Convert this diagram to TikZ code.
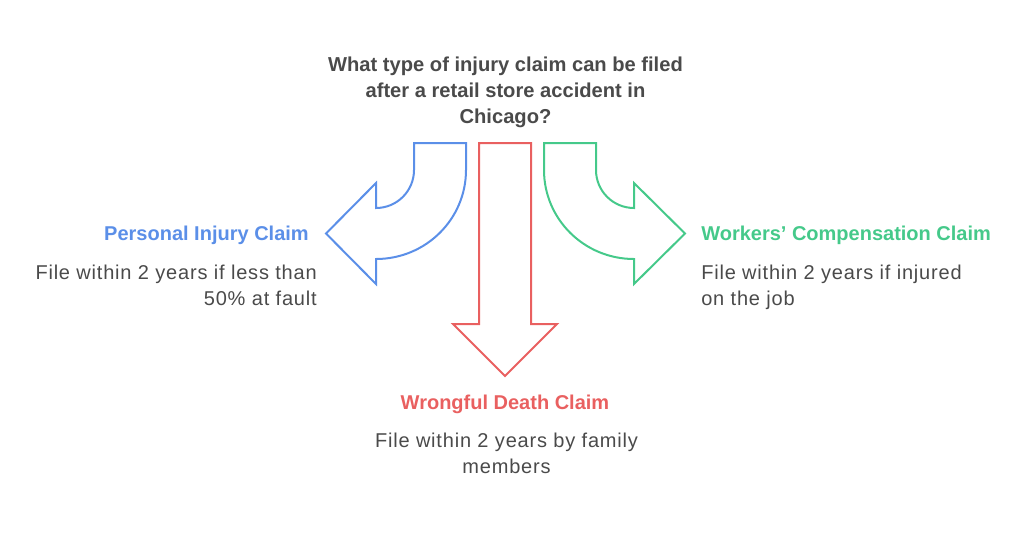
\documentclass[tikz,border=0pt]{standalone}
\usepackage{fontspec}
\setmainfont{Liberation Sans}
\usepackage{xcolor}
\usepackage{tikz}
\usetikzlibrary{positioning}
\definecolor{bluec}{HTML}{5B8FE8}
\definecolor{redc}{HTML}{E96060}
\definecolor{greenc}{HTML}{45C98A}
\definecolor{inkc}{HTML}{4A4A4A}
\tikzset{
headline/.style={font=\fontsize{15.1}{19.6}\selectfont\bfseries,text=inkc,align=center,inner sep=0pt},
claim/.style={font=\fontsize{15}{20}\selectfont\bfseries,inner sep=0pt},
note/.style={font=\fontsize{15}{19.3}\selectfont\addfontfeature{LetterSpace=4},text=inkc,inner sep=0pt},
arrowline/.style={line width=1.5pt,line join=miter}
}
\begin{document}
\begin{tikzpicture}[x=0.75pt,y=-0.75pt]
\useasboundingbox (0,0) rectangle (1024,533);
\node[headline] (Q) at (505.5,92.5) {What type of injury claim can be filed\\after a retail store accident in\\Chicago?};
\draw[arrowline,bluec] (414,143) -- (466,143) -- (466,170) .. controls (466,219) and (426,259) .. (376,259) -- (376,284) -- (326,233.5) -- (376,183) -- (376,208) .. controls (397,208) and (414,191) .. (414,170) -- cycle;
\draw[arrowline,redc] (479,143) -- (531,143) -- (531,324) -- (557,324) -- (505,376) -- (453,324) -- (479,324) -- cycle;
\draw[arrowline,greenc] (544,143) -- (596,143) -- (596,170) .. controls (596,191) and (613,208) .. (634,208) -- (634,183) -- (685,233.5) -- (634,284) -- (634,259) .. controls (584,259) and (544,219) .. (544,170) -- cycle;
\node[claim,text=bluec,anchor=east] (P) at (309,235) {Personal Injury Claim};
\node[note,align=right,anchor=north east] (PN) at (317,265) {File within 2 years if less than\\50\% at fault};
\node[claim,text=redc] (W) at (505,404) {Wrongful Death Claim};
\node[note,align=center,anchor=north] (WN) at (506.5,433) {File within 2 years by family\\members};
\node[claim,text=greenc,anchor=west] (C) at (701,235) {Workers’ Compensation Claim};
\node[note,align=left,anchor=north west] (CN) at (701,265) {File within 2 years if injured\\on the job};
\end{tikzpicture}
\end{document}
